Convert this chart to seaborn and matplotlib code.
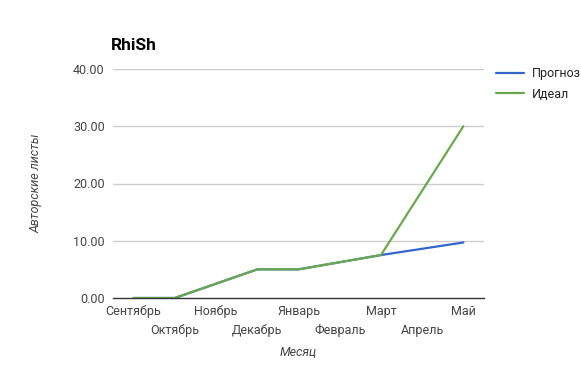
import matplotlib
matplotlib.use("Agg")
import matplotlib.pyplot as plt
import matplotlib.transforms as mtransforms
import seaborn as sns
import pandas as pd

months = ["Сентябрь", "Октябрь", "Ноябрь", "Декабрь", "Январь",
          "Февраль", "Март", "Апрель", "Май"]
forecast = [0, 0, 2.5, 5, 5, 6.25, 7.5, 8.6, 9.7]
ideal = [0, 0, 2.5, 5, 5, 6.25, 7.5, 18.75, 30]
series_names = ["Прогноз", "Идеал"]
yticks = [0, 10, 20, 30, 40]

df = pd.DataFrame({
    "value": forecast + ideal,
    "series": [series_names[0]] * len(months) + [series_names[1]] * len(months),
})
df["x"] = list(range(len(months))) * 2

sns.set_theme(style="white")
plt.rcParams["font.family"] = ["Roboto", "DejaVu Sans"]

fig = plt.figure(figsize=(5.81, 3.65), dpi=100)
ax = fig.add_axes([113 / 581, 1 - 298 / 365, (484 - 113) / 581, (298 - 69) / 365])

palette = {"Прогноз": "#3366cc", "Идеал": "#6aa84f"}
sns.lineplot(data=df, x="x", y="value", hue="series", palette=palette,
             linewidth=1.6, ax=ax, legend=True)

ax.set_xlim(-0.5, len(months) - 0.5)
ax.set_ylim(0, 40)
ax.set_yticks(yticks)
ax.set_yticklabels([f"{v:.2f}" for v in yticks], color="#444444", fontsize=9)
ax.set_xticks(range(len(months)))
ax.set_xticklabels(months, color="#444444", fontsize=9)
ax.tick_params(axis="both", length=0, pad=6)
ax.tick_params(axis="x", pad=5)
shift = mtransforms.ScaledTranslation(0, -19 / 100, fig.dpi_scale_trans)
for i, lbl in enumerate(ax.get_xticklabels()):
    if i % 2 == 1:
        lbl.set_transform(lbl.get_transform() + shift)
for v in yticks[1:]:
    ax.axhline(v, color="#cccccc", linewidth=1, zorder=0)
for s in ["top", "right", "left"]:
    ax.spines[s].set_visible(False)
ax.spines["bottom"].set_color("#333333")
ax.spines["bottom"].set_linewidth(1)

ax.set_xlabel("")
ax.set_ylabel("Авторские листы", fontstyle="italic", color="#444444", fontsize=9, labelpad=22)
fig.text(298 / 581, 1 - 352 / 365, "Месяц", fontstyle="italic", color="#444444",
         fontsize=9, ha="center", va="center")

fig.text(111 / 581, 1 - 46 / 365, "RhiSh", fontsize=12.5, fontweight="bold",
         va="center", ha="left", color="#000000")

handles, labels = ax.get_legend_handles_labels()
ax.legend(handles, labels, loc="upper left", bbox_to_anchor=(1.02, 1.03),
          frameon=False, fontsize=9, handlelength=2.2, labelcolor="#222222",
          borderaxespad=0, handletextpad=0.6, labelspacing=0.6)

fig.savefig("out.png", dpi=100)
